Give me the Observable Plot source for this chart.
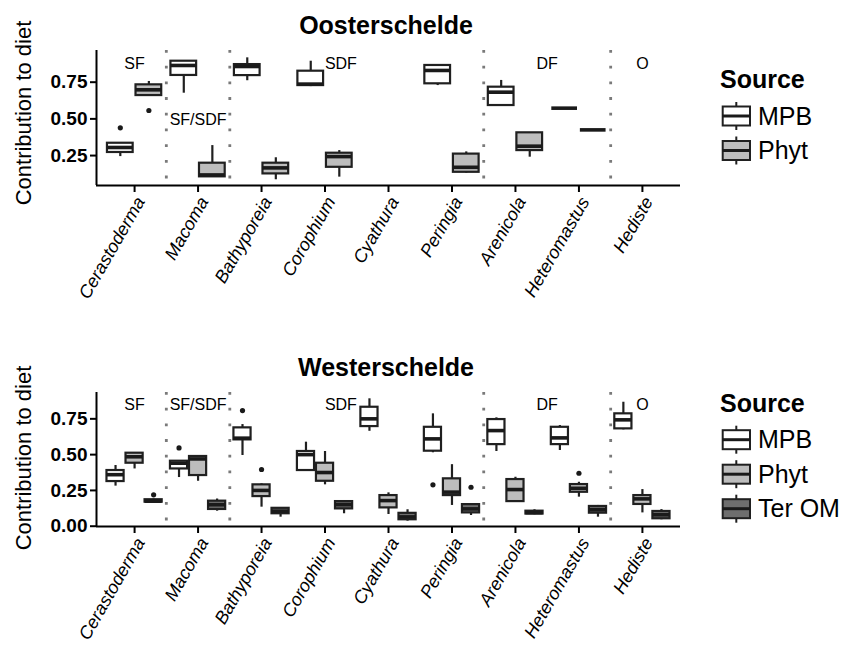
<!DOCTYPE html>
<html><head><meta charset="utf-8">
<script src="https://cdn.jsdelivr.net/npm/d3@7"></script>
<script src="https://cdn.jsdelivr.net/npm/@observablehq/plot@0.6"></script>
<style>
body{margin:0;background:#fff;width:846px;height:646px;overflow:hidden;position:relative;font-family:"Liberation Sans",Arial,sans-serif;}
.panel{position:absolute;left:0;}
#overlay{position:absolute;left:0;top:0;pointer-events:none;}
</style></head><body>
<div id="p1" class="panel" style="top:40px"></div>
<div id="p2" class="panel" style="top:382px"></div>
<svg id="overlay" width="846" height="646"></svg>
<script>
// ---------- data ----------
const species = ["Cerastoderma","Macoma","Bathyporeia","Corophium","Cyathura","Peringia","Arenicola","Heteromastus","Hediste"];
const oosterSources = ["MPB","Phyt"];
const westerSources = ["MPB","Phyt","Ter OM"];
// each entry: [lower whisker, Q1, median, Q3, upper whisker]
const oosterMPB = [
  [0.243,0.271,0.305,0.334,0.334],
  [0.675,0.796,0.864,0.893,0.893],
  [0.760,0.795,0.857,0.870,0.916],
  [0.720,0.727,0.737,0.825,0.893],
  null,
  [0.727,0.739,0.830,0.864,0.864],
  [0.591,0.591,0.682,0.716,0.762],
  [0.573,0.573,0.573,0.573,0.573],
  null
];
const oosterPhyt = [
  [0.659,0.659,0.698,0.732,0.755],
  [0.105,0.105,0.118,0.198,0.318],
  [0.085,0.125,0.166,0.198,0.235],
  [0.103,0.170,0.243,0.266,0.284],
  null,
  [0.130,0.136,0.170,0.260,0.275],
  [0.239,0.284,0.314,0.405,0.405],
  [0.425,0.425,0.425,0.425,0.425],
  null
];
const westerMPB = [
  [0.280,0.312,0.360,0.389,0.424],
  [0.340,0.400,0.440,0.454,0.454],
  [0.494,0.603,0.615,0.687,0.710],
  [0.389,0.389,0.500,0.522,0.587],
  [0.663,0.696,0.750,0.831,0.890],
  [0.513,0.524,0.610,0.691,0.785],
  [0.522,0.570,0.668,0.745,0.757],
  [0.529,0.570,0.617,0.691,0.703],
  [0.673,0.680,0.743,0.785,0.866]
];
const westerPhyt = [
  [0.400,0.440,0.485,0.510,0.510],
  [0.314,0.354,0.470,0.487,0.494],
  [0.133,0.207,0.250,0.289,0.296],
  [0.289,0.314,0.375,0.440,0.522],
  [0.082,0.128,0.179,0.214,0.233],
  [0.145,0.214,0.238,0.331,0.430],
  [0.172,0.172,0.256,0.326,0.342],
  [0.203,0.237,0.265,0.291,0.307],
  [0.093,0.152,0.191,0.214,0.256]
];
const westerTerOM = [
  [0.165,0.168,0.175,0.185,0.190],
  [0.105,0.117,0.150,0.175,0.190],
  [0.063,0.087,0.105,0.125,0.130],
  [0.087,0.121,0.151,0.172,0.175],
  [0.035,0.045,0.065,0.090,0.115],
  [0.075,0.093,0.121,0.151,0.155],
  [0.080,0.085,0.095,0.105,0.115],
  [0.063,0.091,0.115,0.138,0.145],
  [0.045,0.052,0.080,0.103,0.116]
];
const oosterOutlierSpecies = ["Cerastoderma","Cerastoderma"];
const oosterOutlierSource  = ["MPB","Phyt"];
const oosterOutlierValue   = [0.439,0.557];
const westerOutlierSpecies = ["Cerastoderma","Macoma","Bathyporeia","Bathyporeia","Peringia","Peringia","Heteromastus"];
const westerOutlierSource  = ["Ter OM","MPB","MPB","Phyt","MPB","Ter OM","Phyt"];
const westerOutlierValue   = [0.219,0.547,0.808,0.396,0.289,0.272,0.370];
const feedingGroups = ["SF","SF/SDF","SDF","DF","O"];
const feedingGroupAt = [1, 2, 4.25, 7.5, 9];      // position on the species axis
const oosterGroupLevel = [0.875,0.49,0.875,0.875,0.875];
const westerGroupLevel = [0.85,0.85,0.85,0.85,0.85];
const groupBoundaries = [1.5,2.5,6.5,8.5];
const oosterTicks = [0.25,0.50,0.75];
const westerTicks = [0.00,0.25,0.50,0.75];

// ---------- drawing ----------
const FONT = "Liberation Sans, Arial, sans-serif";
const sourceNames = ["MPB","Phyt","Ter OM"];
const sourceFills = ["#ffffff","#bdbdbd","#6e6e6e"];
const INK = "#202020";

function panel(stats, sources, outSp, outSrc, outVal, groupLevel, yDomain, yTicks, height, marginBottom) {
  const n = sources.length, slot = 0.9 / n, bw = slot * 0.9;
  const off = j => (j - (n - 1) / 2) * slot;
  const rows = [];
  species.forEach((sp, i) => sources.forEach((src, j) => {
    const s = stats[j][i];
    if (!s) return;
    rows.push({species: sp, source: src, x: i + 1 + off(j), lo: s[0], q1: s[1], med: s[2], q3: s[3], hi: s[4]});
  }));
  const outs = outVal.map((v, k) => ({x: species.indexOf(outSp[k]) + 1 + off(sources.indexOf(outSrc[k])), y: v}));
  return Plot.plot({
    width: 700, height, marginLeft: 96, marginRight: 20, marginTop: 10, marginBottom,
    x: {domain: [0.4, 9.6]},
    y: {domain: yDomain},
    color: {domain: sourceNames, range: sourceFills},
    style: {fontFamily: FONT, fontSize: "19px", color: "#000", background: "transparent", overflow: "visible"},
    marks: [
      Plot.ruleX(groupBoundaries, {stroke: "#7a7a7a", strokeWidth: 2.8, strokeDasharray: "2.8,12.9"}),
      Plot.ruleX(rows, {x: "x", y1: "lo", y2: "hi", stroke: INK, strokeWidth: 2.2}),
      Plot.rect(rows, {x1: d => d.x - bw / 2, x2: d => d.x + bw / 2, y1: "q1", y2: "q3", fill: "source", stroke: INK, strokeWidth: 2.2}),
      Plot.ruleY(rows, {y: "med", x1: d => d.x - bw / 2, x2: d => d.x + bw / 2, stroke: "#1a1a1a", strokeWidth: 3.6}),
      Plot.dot(outs, {x: "x", y: "y", r: 2.6, fill: "#1a1a1a", stroke: null}),
      Plot.text(feedingGroups, {x: (d, i) => feedingGroupAt[i], y: (d, i) => groupLevel[i], text: d => d, fontSize: 16, fill: "#000"}),
      Plot.axisY({ticks: yTicks, tickFormat: d3.format(".2f"), fontWeight: "bold", fontSize: 19, tickSize: 6, tickPadding: 3, label: null, strokeWidth: 2}),
      Plot.axisX({ticks: d3.range(1, 10), tickFormat: i => species[i - 1], tickRotate: -60, fontStyle: "italic", fontSize: 18, tickSize: 7, tickPadding: 4, label: null, strokeWidth: 2, textStroke: null}),
      Plot.ruleX([0.4], {stroke: "#000", strokeWidth: 2}),
      Plot.ruleY([yDomain[0]], {stroke: "#000", strokeWidth: 2})
    ]
  });
}

document.getElementById("p1").append(panel([oosterMPB, oosterPhyt], oosterSources,
  oosterOutlierSpecies, oosterOutlierSource, oosterOutlierValue, oosterGroupLevel,
  [0.046, 0.966], oosterTicks, 300, 155));
document.getElementById("p2").append(panel([westerMPB, westerPhyt, westerTerOM], westerSources,
  westerOutlierSpecies, westerOutlierSource, westerOutlierValue, westerGroupLevel,
  [-0.002, 0.934], westerTicks, 264, 120));

// shift the rotated species labels so their ends sit just right of the ticks
document.querySelectorAll(".panel svg g[aria-label='x-axis tick label']").forEach(g => {
  const t = g.getAttribute("transform") || "";
  g.setAttribute("transform", "translate(6,2) " + t);
});

// titles, axis titles, legends
const ov = d3.select("#overlay").style("font-family", FONT);
[["Oosterschelde", 34], ["Westerschelde", 375.6]].forEach(([t, y]) =>
  ov.append("text").attr("x", 386).attr("y", y).attr("text-anchor", "middle")
    .attr("font-size", 25).attr("font-weight", "bold").text(t));
[113, 458].forEach(cy =>
  ov.append("text").attr("transform", `translate(31,${cy}) rotate(-90)`).attr("text-anchor", "middle")
    .attr("font-size", 22).text("Contribution to diet"));

function legend(y0, names) {
  ov.append("text").attr("x", 720).attr("y", y0).attr("font-size", 25).attr("font-weight", "bold").text("Source");
  names.forEach((nm, k) => {
    const cy = y0 + 28 + 34.5 * k;
    const g = ov.append("g");
    g.append("line").attr("x1", 736.3).attr("x2", 736.3).attr("y1", cy - 14).attr("y2", cy + 14).attr("stroke", INK).attr("stroke-width", 2);
    g.append("rect").attr("x", 722.7).attr("y", cy - 9.5).attr("width", 27.3).attr("height", 19)
      .attr("fill", sourceFills[sourceNames.indexOf(nm)]).attr("stroke", INK).attr("stroke-width", 2);
    g.append("line").attr("x1", 722.7).attr("x2", 750).attr("y1", cy).attr("y2", cy).attr("stroke", "#1a1a1a").attr("stroke-width", 3);
    ov.append("text").attr("x", 758).attr("y", cy + 8.5).attr("font-size", 25).text(nm);
  });
}
legend(88, oosterSources);
legend(411.7, westerSources);
</script>
</body></html>
